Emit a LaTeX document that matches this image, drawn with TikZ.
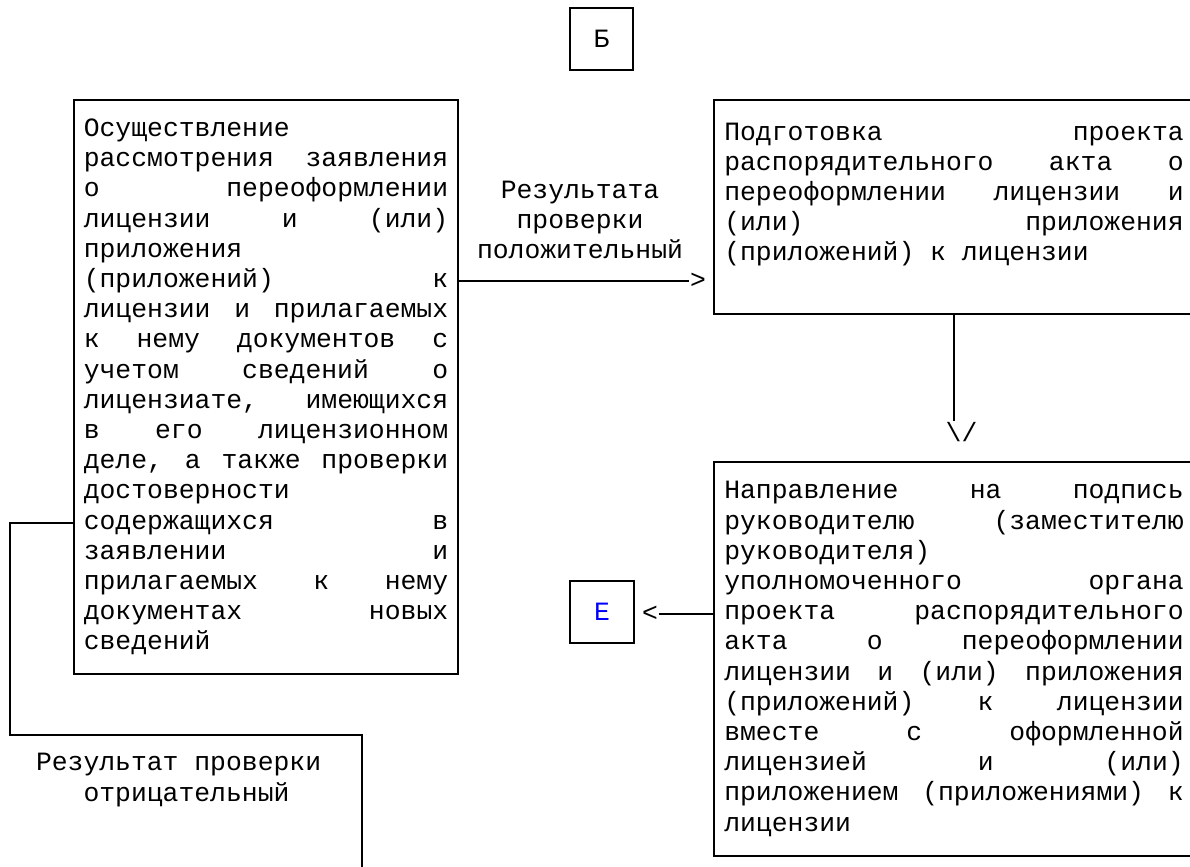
\documentclass[tikz,border=0pt]{standalone}
\usepackage{fontspec}
\setmainfont{Liberation Mono}
\newcommand{\rowa}[1]{\makebox[182.2pt][s]{\spaceskip=7.92pt plus 1fil\relax #1}}
\newcommand{\rowb}[1]{\makebox[229.7pt][s]{\spaceskip=7.92pt plus 1fil\relax #1}}

\begin{document}
\begin{tikzpicture}[x=0.5pt,y=-0.5pt,line width=1pt,
    every node/.style={inner sep=0pt,font=\fontsize{13.2}{15.1}\selectfont},
    blk/.style={draw,align=left}]
  \useasboundingbox (0,0) rectangle (1190,867);

  \node [blk,minimum width=31.5pt,minimum height=31pt] (b) at (601.5,39) {Б};

  \node [blk,minimum width=192pt,minimum height=287pt] (1) at (266,387) {Осуществление\\
    \rowa{рассмотрения заявления}\\
    \rowa{о переоформлении}\\
    \rowa{лицензии и (или)}\\
    приложения\\
    \rowa{(приложений) к}\\
    \rowa{лицензии и прилагаемых}\\
    \rowa{к нему документов с}\\
    \rowa{учетом сведений о}\\
    \rowa{лицензиате, имеющихся}\\
    \rowa{в его лицензионном}\\
    \rowa{деле, а также проверки}\\
    достоверности\\
    \rowa{содержащихся в}\\
    \rowa{заявлении и}\\
    \rowa{прилагаемых к нему}\\
    \rowa{документах новых}\\
    сведений};

  \node [blk,minimum width=240pt,minimum height=107pt] (2) at (954,207) {\rowb{Подготовка проекта}\\
    \rowb{распорядительного акта о}\\
    \rowb{переоформлении лицензии и}\\
    \rowb{(или) приложения}\\
    (приложений) к лицензии\\
    \mbox{}};

  \node [blk,minimum width=240pt,minimum height=197pt] (3) at (954,659) {\rowb{Направление на подпись}\\
    \rowb{руководителю (заместителю}\\
    руководителя)\\
    \rowb{уполномоченного органа}\\
    \rowb{проекта распорядительного}\\
    \rowb{акта о переоформлении}\\
    \rowb{лицензии и (или) приложения}\\
    \rowb{(приложений) к лицензии}\\
    \rowb{вместе с оформленной}\\
    \rowb{лицензией и (или)}\\
    \rowb{приложением (приложениями) к}\\
    лицензии};

  \node [blk,minimum width=32pt,minimum height=31pt,text=blue] (e) at (602,612) {Е};

  % положительный результат
  \node [align=center] (p) at (580,220) {Результата\\проверки\\положительный};
  \node (gt) at (698,281) {>};
  \draw (1.east |- gt) -- (gt.west);

  \node (v) at (961.5,432) {\textbackslash/};
  \draw ([xshift=-4pt]v.north |- 2.south) -- ([xshift=-4pt]v.north);

  \node (lt) at (650,614) {<};
  \draw (3.west |- lt) -- (lt.east);

  % отрицательный результат
  \node [anchor=west,align=left] (q) at (35,780) {Результат проверки\\\hspace*{23.76pt}отрицательный};
  \coordinate (n) at (362,872);
  \draw (1.west |- 0,523) -| (10,735) -| (n);
\end{tikzpicture}
\end{document}
